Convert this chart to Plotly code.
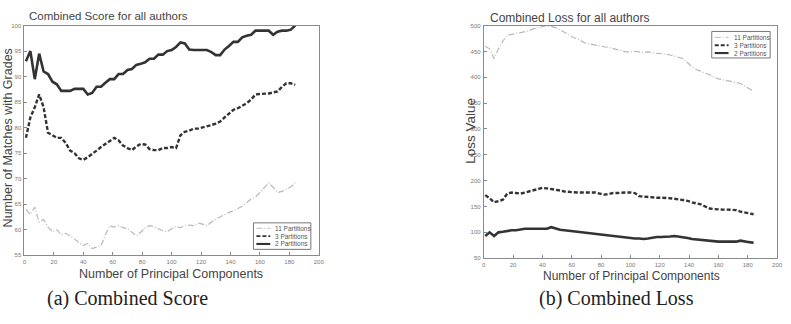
import plotly.graph_objects as go

# ---------------- data ----------------
pcs = list(range(1, 186, 3))  # number of principal components

score_11 = [64, 63, 64.4, 61.5, 62, 60.5, 59.6, 60, 59, 59.3, 58.8, 58.2, 57.5, 56.9, 57.3, 56.3,
            56.6, 56.9, 59, 60.8, 60.5, 60.8, 60.4, 60.2, 59.5, 58.8, 59.5, 60.4, 60.8, 60.6, 60.2,
            59.8, 59.6, 60.2, 60.6, 60.4, 60.8, 60.9, 60.8, 61.3, 61.1, 60.8, 61.5, 62.1, 62.5, 63,
            63.4, 63.7, 64.2, 64.6, 65.3, 66, 66.4, 67.3, 68.2, 69.2, 68.3, 67.3, 67.5, 67.9, 68.4, 69.2]
score_3 = [78, 82, 84, 86.5, 84, 79, 78.5, 78, 78, 77, 75.5, 75, 74, 73.7, 74.2, 74.8,
           75.5, 76.2, 76.8, 77.5, 78, 77.5, 76.5, 76, 75.6, 76.3, 76.8, 76.7, 75.8, 75.6, 75.6,
           76, 76, 76.2, 76, 78.5, 79.2, 79.4, 79.8, 79.8, 80, 80.3, 80.5, 80.8, 81.2, 82,
           82.8, 83.5, 83.8, 84.3, 84.8, 85.5, 86.5, 86.6, 86.6, 86.7, 86.9, 87.1, 88, 88.7, 88.7, 88.4]
score_2 = [93, 95, 89.5, 94.5, 91, 90.5, 89, 88.5, 87.2, 87.2, 87.2, 87.6, 87.6, 87.6, 86.5, 86.8,
           88, 88, 88.8, 89.5, 89.5, 90.5, 90.5, 91.3, 91.5, 92.3, 92.5, 92.8, 93.5, 93.5, 94.3,
           94.3, 95, 95.2, 95.8, 96.7, 96.5, 95.3, 95.2, 95.2, 95.2, 95.2, 94.8, 94.2, 94.2, 95.3,
           96, 96.8, 96.8, 97.7, 98, 98.2, 99, 99, 99, 99, 98.2, 98.8, 99, 99, 99.2, 100]

loss_11 = [460, 455, 436, 455, 470, 481, 483, 485, 487, 488, 490, 494, 496, 499, 500, 498,
           496, 492, 487, 481, 477, 474, 469, 465, 464, 462, 460, 459, 458, 456, 453,
           451, 449, 449, 450, 449, 448, 449, 447, 446, 446, 445, 443, 441, 439, 436,
           428, 420, 415, 411, 408, 405, 400, 397, 395, 393, 391, 390, 388, 383, 378, 373]
loss_3 = [172, 166, 158, 160, 163, 175, 177, 176, 175, 177, 179, 181, 183, 186, 185, 184,
          182, 181, 179, 178, 177, 177, 177, 177, 177, 177, 175, 173, 174, 176, 176,
          177, 177, 177, 176, 170, 169, 168, 168, 167, 167, 167, 166, 165, 164, 163,
          161, 158, 156, 154, 150, 146, 145, 144, 144, 144, 144, 143, 140, 138, 136, 135]
loss_2 = [93, 100, 93, 100, 101, 103, 104, 104, 106, 107, 107, 107, 106, 106, 107, 110,
          107, 105, 104, 103, 102, 101, 100, 98, 97, 96, 95, 94, 93, 92, 92,
          91, 90, 89, 88, 88, 87, 88, 90, 91, 91, 91, 92, 93, 92, 91,
          89, 87, 86, 85, 84, 83, 82, 82, 82, 82, 82, 82, 84, 82, 81, 80]

series_names = ["11 Partitions", "3 Partitions", "2 Partitions"]
x_ticks = list(range(0, 201, 20))
score_ticks = list(range(55, 101, 5))
loss_ticks = list(range(50, 501, 50))

# ---------------- styles ----------------
W, H = 791, 324
styles = {
    "11 Partitions": dict(color="#b8b8b8", width=1.2, dash="6px,2px,1px,2px"),
    "3 Partitions": dict(color="#333333", width=2.4, dash="4px,2px"),
    "2 Partitions": dict(color="#333333", width=2.6, dash="solid"),
}

fig = go.Figure()
for name, ys in zip(series_names, [score_11, score_3, score_2]):
    fig.add_trace(go.Scatter(x=pcs, y=ys, mode="lines", name=name, line=styles[name],
                             xaxis="x", yaxis="y", showlegend=False))
for name, ys in zip(series_names, [loss_11, loss_3, loss_2]):
    fig.add_trace(go.Scatter(x=pcs, y=ys, mode="lines", name=name, line=styles[name],
                             xaxis="x2", yaxis="y2", showlegend=False))

def px_x(p):
    return p / W

def px_y(p):
    return 1 - p / H

axis_common = dict(showgrid=False, zeroline=False, showline=True, linecolor="#8a8a8a",
                   linewidth=1, mirror=True, ticks="inside", ticklen=3, tickcolor="#8a8a8a",
                   tickfont=dict(family="Liberation Sans", size=6, color="#777777"))

fig.update_layout(
    width=W, height=H, margin=dict(l=0, r=0, t=0, b=0),
    paper_bgcolor="white", plot_bgcolor="white", showlegend=False,
    xaxis=dict(domain=[px_x(22.7), px_x(320)], range=[0, 200], tickvals=x_ticks,
               anchor="y", ticklabelstandoff=1, **axis_common),
    yaxis=dict(domain=[px_y(257), px_y(23)], range=[55, 100], tickvals=score_ticks,
               anchor="x", ticklabelstandoff=1, **axis_common),
    xaxis2=dict(domain=[px_x(486.7), px_x(783)], range=[0, 200], tickvals=x_ticks,
                anchor="y2", ticklabelstandoff=1, **axis_common),
    yaxis2=dict(domain=[px_y(260), px_y(23)], range=[50, 500], tickvals=loss_ticks,
                anchor="x2", ticklabelstandoff=1, **axis_common),
)

annotations = []
shapes = []
sans = "Liberation Sans"
txt = "#444444"

def add_text(x, y, text, size, family=sans, color=txt, angle=0, xanchor="center"):
    annotations.append(dict(x=px_x(x), y=px_y(y), xref="paper", yref="paper", text=text,
                            showarrow=False, xanchor=xanchor, yanchor="middle", textangle=angle,
                            font=dict(family=family, size=size, color=color)))

# titles
add_text(25, 13, "Combined Score for all authors", 11.5, xanchor="left")
add_text(491, 15, "Combined Loss for all authors", 12, xanchor="left")
# axis titles
add_text(171, 276, "Number of Principal Components", 12.5)
add_text(636, 278, "Number of Principal Components", 12)
add_text(7, 137, "Number of Matches with Grades", 12.5, angle=-90)
add_text(473, 130, "Loss Value", 13.5, angle=-90)
# captions
add_text(127, 301, "(a) Combined Score", 20, family="Liberation Serif", color="#222222")
add_text(621, 301, "(b) Combined Loss", 20, family="Liberation Serif", color="#222222")

# manual compact legends
def add_legend(x0, y0, x1, y1, rows):
    shapes.append(dict(type="rect", xref="paper", yref="paper", x0=px_x(x0), x1=px_x(x1),
                       y0=px_y(y1), y1=px_y(y0), line=dict(color="#777777", width=1),
                       fillcolor="white"))
    for i, name in enumerate(series_names):
        yy = rows[i]
        st = styles[name]
        shapes.append(dict(type="line", xref="paper", yref="paper", x0=px_x(x0 + 3),
                           x1=px_x(x0 + 17), y0=px_y(yy), y1=px_y(yy),
                           line=dict(color=st["color"], width=max(1, st["width"] * 0.8),
                                     dash=st["dash"])))
        add_text(x0 + 20, yy, name, 6.5, xanchor="left", color="#555555")

add_legend(254, 224, 312, 251, [229.5, 237.5, 245.5])
add_legend(717, 29, 776, 56, [35, 43, 51])

fig.update_layout(annotations=annotations, shapes=shapes)
fig.write_html("out.html")
